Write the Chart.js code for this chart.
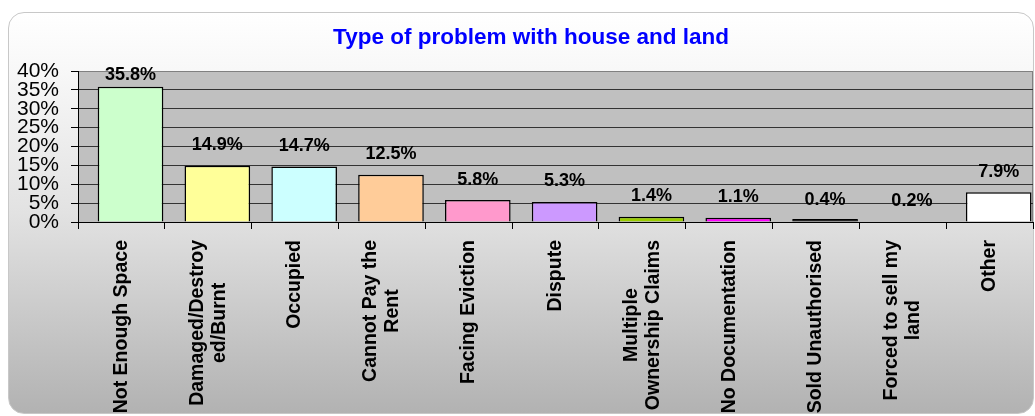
<!DOCTYPE html>
<html>
<head>
<meta charset="utf-8">
<script src="https://cdn.jsdelivr.net/npm/chart.js@4.4.1/dist/chart.umd.min.js"></script>
<style>
  body { margin: 0; background: #fff; }
  #wrap { position: relative; width: 1035px; height: 416px; overflow: hidden; }
  #panel {
    position: absolute; left: 8px; top: 12px; width: 1024px; height: 400px;
    border: 1px solid #c8c8c8; border-radius: 16px;
    background: linear-gradient(#ffffff 0%, #f8f8f8 14%, #e2e2e2 50%, #b2b2b2 100%);
  }
  #myChart { position: absolute; left: 0; top: 0; }
</style>
</head>
<body>
<div id="wrap">
  <div id="panel"></div>
  <canvas id="myChart" width="1035" height="416"></canvas>
</div>
<script>
// chart data
var categories = [
    ['Not Enough Space'],
    ['Damaged/Destroy', 'ed/Burnt'],
    ['Occupied'],
    ['Cannot Pay the', 'Rent'],
    ['Facing Eviction'],
    ['Dispute'],
    ['Multiple', 'Ownership Claims'],
    ['No Documentation'],
    ['Sold Unauthorised'],
    ['Forced to sell my', 'land'],
    ['Other']
];
var values = [35.8, 14.9, 14.7, 12.5, 5.8, 5.3, 1.4, 1.1, 0.4, 0.2, 7.9];
var barColors = ['#ccffcc', '#ffff99', '#ccffff', '#ffcc99', '#ff99cc', '#cc99ff',
                 '#99cc00', '#ff00ff', '#000000', '#c0c0c0', '#ffffff'];
var yTicks = [0, 5, 10, 15, 20, 25, 30, 35, 40];
var titleText = 'Type of problem with house and land';

var FONT = '"Liberation Sans", Arial, sans-serif';

// bars sit a bit right of the category centre (like the original)
var shift = 0.105;

var points = [];
for (var i = 0; i < values.length; i++) {
    points.push({x: i, y: values[i]});
}

// grey plot background + frame + title
var plotBg = {
    id: 'plotBg',
    beforeDraw: function (chart) {
        var a = chart.chartArea, c = chart.ctx;
        c.save();
        c.fillStyle = '#c0c0c0';
        c.fillRect(a.left, a.top, a.right - a.left, a.bottom - a.top);
        c.strokeStyle = '#808080';
        c.lineWidth = 1;
        c.beginPath();
        c.moveTo(a.left, a.top + 0.5);
        c.lineTo(a.right - 0.5, a.top + 0.5);
        c.lineTo(a.right - 0.5, a.bottom);
        c.stroke();

        c.font = 'bold 22.5px ' + FONT;
        c.fillStyle = '#0000ff';
        c.textAlign = 'center';
        c.textBaseline = 'middle';
        c.fillText(titleText, 531, 38);
        c.restore();
    }
};

// value labels above bars
var valueLabels = {
    id: 'valueLabels',
    afterDatasetsDraw: function (chart) {
        var c = chart.ctx, meta = chart.getDatasetMeta(0);
        c.save();
        c.font = 'bold 18px ' + FONT;
        c.fillStyle = '#000';
        c.textAlign = 'center';
        c.textBaseline = 'middle';
        meta.data.forEach(function (bar, i) {
            var y = Math.max(chart.scales.y.getPixelForValue(values[i]) - 20.5, chart.chartArea.top + 4);
            c.fillText(values[i].toFixed(1) + '%', bar.x, y);
        });
        c.restore();
    }
};

// rotated category labels, top aligned, lines centred on each other
var catLabels = {
    id: 'catLabels',
    afterDraw: function (chart) {
        var c = chart.ctx, xs = chart.scales.x;
        var top = chart.chartArea.bottom + 18;
        c.save();
        c.font = 'bold 19.5px ' + FONT;
        c.fillStyle = '#000';
        c.textAlign = 'center';
        c.textBaseline = 'middle';
        categories.forEach(function (lines, i) {
            var x = xs.getPixelForValue(i);
            var maxW = 0;
            lines.forEach(function (l) { maxW = Math.max(maxW, c.measureText(l).width); });
            c.save();
            c.translate(x, top);
            c.rotate(-Math.PI / 2);
            lines.forEach(function (l, j) {
                c.fillText(l, -maxW / 2, (j - (lines.length - 1) / 2) * 22);
            });
            c.restore();
        });
        c.restore();
    }
};

var ctx = document.getElementById('myChart').getContext('2d');
var chart = new Chart(ctx, {
    type: 'bar',
    data: {
        labels: categories,
        datasets: [{
            data: points,
            xAxisID: 'xb',
            backgroundColor: barColors,
            borderColor: values.map(function (v, i) { return i === 9 ? 'rgba(0,0,0,0)' : '#000'; }),
            borderWidth: 1.5,
            minBarLength: 3,
            barPercentage: 0.756,
            categoryPercentage: 1
        }]
    },
    options: {
        responsive: false,
        animation: false,
        layout: { padding: { left: 0, right: 2, top: 71, bottom: 0 } },
        plugins: {
            legend: { display: false },
            tooltip: { enabled: false },
            title: { display: false }
        },
        scales: {
            x: {
                type: 'category',
                position: 'bottom',
                offset: true,
                grid: { offset: true, drawOnChartArea: false, drawTicks: true, tickLength: 7, color: '#000' },
                border: { color: '#000', width: 1 },
                ticks: { callback: function () { return ''; }, maxRotation: 0, autoSkip: false },
                afterFit: function (s) { s.height = 194; }
            },
            xb: {
                type: 'linear',
                position: 'bottom',
                display: true,
                offset: false,
                bounds: 'data',
                min: -0.5 - shift,
                max: categories.length - 0.5 - shift,
                grid: { display: false },
                border: { display: false },
                ticks: { display: false },
                afterFit: function (s) { s.height = 0; }
            },
            y: {
                min: 0,
                max: 40,
                afterBuildTicks: function (s) { s.ticks = yTicks.map(function (v) { return {value: v}; }); },
                grid: {
                    color: function (c) { return c.tick && c.tick.value === 40 ? '#808080' : '#333'; },
                    tickLength: 7,
                    tickColor: '#000'
                },
                border: { color: '#000', width: 1 },
                ticks: {
                    autoSkip: false,
                    padding: 12,
                    color: '#000',
                    font: { family: FONT, size: 21 },
                    callback: function (v) { return v + '%'; }
                },
                afterFit: function (s) { s.width = 78; }
            }
        }
    },
    plugins: [plotBg, valueLabels, catLabels]
});
</script>
</body>
</html>
